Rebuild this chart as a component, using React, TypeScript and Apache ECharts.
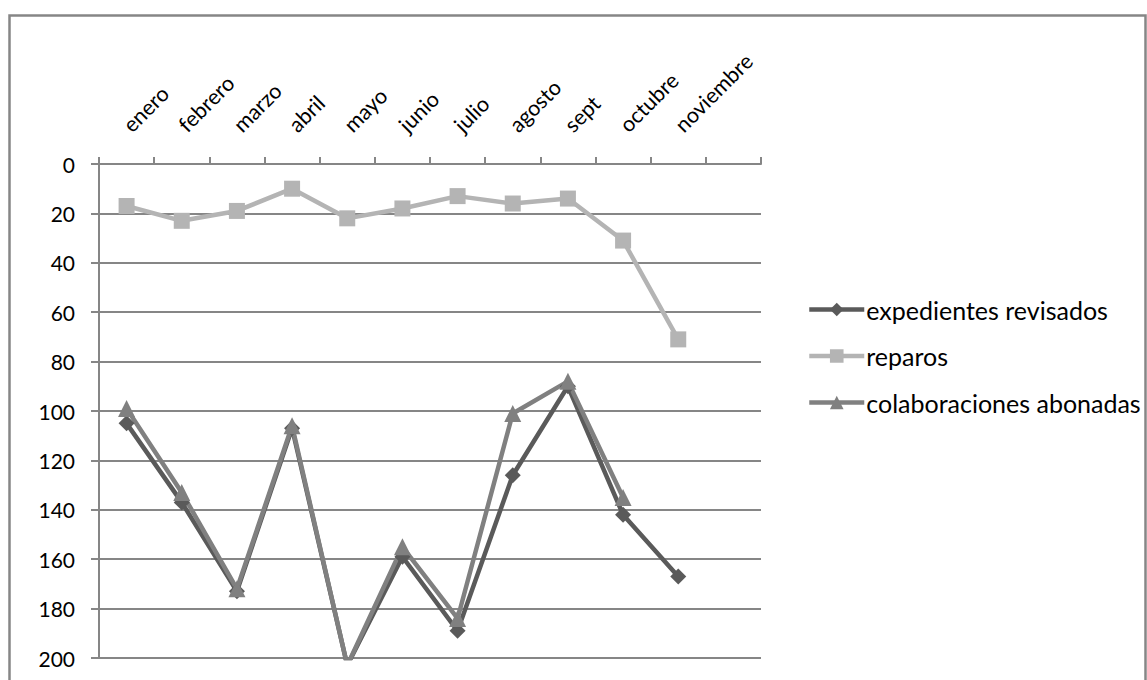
import React, { useEffect, useRef } from "react";
import * as echarts from "echarts";

const categories = ["enero", "febrero", "marzo", "abril", "mayo", "junio", "julio", "agosto", "sept", "octubre", "noviembre", ""];
const expedientesRevisados = [105, 137, 173, 107, 203, 159, 189, 126, 90, 142, 167];
const reparos = [17, 23, 19, 10, 22, 18, 13, 16, 14, 31, 71];
const colaboracionesAbonadas = [99, 133, 172, 106, 203, 155, 184, 101, 88, 135];
const seriesNames = ["expedientes revisados", "reparos", "colaboraciones abonadas"];

const FONT = "Lato, 'Open Sans', sans-serif";
const AXIS = "#868686";

export default function App() {
  const ref = useRef<HTMLDivElement>(null);
  useEffect(() => {
    if (!ref.current) return;
    const chart = echarts.init(ref.current, null, { renderer: "svg" });
    const lineSeries = (name: string, data: number[], color: string, symbol: string, size: number) => ({
      name,
      type: "line",
      data,
      symbol,
      symbolSize: size,
      clip: true,
      lineStyle: { color, width: 4.5 },
      itemStyle: { color },
    });
    chart.setOption({
      animation: false,
      backgroundColor: "#ffffff",
      textStyle: { fontFamily: FONT },
      graphic: [
        {
          type: "rect",
          shape: { x: 9.5, y: 15.5, width: 1136, height: 700 },
          style: { fill: "none", stroke: AXIS, lineWidth: 2.5 },
          silent: true,
        },
      ],
      grid: { left: 99, top: 164, width: 662, height: 494, containLabel: false },
      legend: {
        orient: "vertical",
        left: 802,
        top: 292,
        itemWidth: 55,
        itemHeight: 17,
        itemGap: 21.5,
        data: seriesNames,
        lineStyle: { width: 4.5 },
        textStyle: { fontSize: 25, color: "#000", fontFamily: FONT, padding: [0, 0, 0, -3] },
      },
      xAxis: {
        type: "category",
        position: "top",
        data: categories,
        boundaryGap: true,
        axisLine: { onZero: false, lineStyle: { color: AXIS, width: 2 } },
        axisTick: { show: true, length: 7, lineStyle: { color: AXIS, width: 2 } },
        axisLabel: {
          rotate: -45,
          fontSize: 21.5,
          color: "#000",
          margin: 36,
          interval: 0,
          fontFamily: FONT,
        },
        splitLine: { show: false },
      },
      yAxis: {
        type: "value",
        inverse: true,
        min: 0,
        max: 200,
        interval: 20,
        axisLine: { show: true, lineStyle: { color: AXIS, width: 2 } },
        axisTick: { show: true, length: 8, lineStyle: { color: AXIS, width: 2 } },
        axisLabel: { fontSize: 21, color: "#000", margin: 24, fontFamily: FONT },
        splitLine: { show: true, lineStyle: { color: AXIS, width: 2 } },
      },
      series: [
        lineSeries(seriesNames[0], expedientesRevisados, "#5a5a5a", "diamond", 16),
        lineSeries(seriesNames[1], reparos, "#b4b4b4", "rect", 16),
        lineSeries(seriesNames[2], colaboracionesAbonadas, "#808080", "triangle", 17),
      ],
    });
    return () => chart.dispose();
  }, []);
  return (
    <div
      ref={ref}
      style={{ position: "absolute", left: 0, top: 0, width: 1147, height: 680 }}
    />
  );
}
